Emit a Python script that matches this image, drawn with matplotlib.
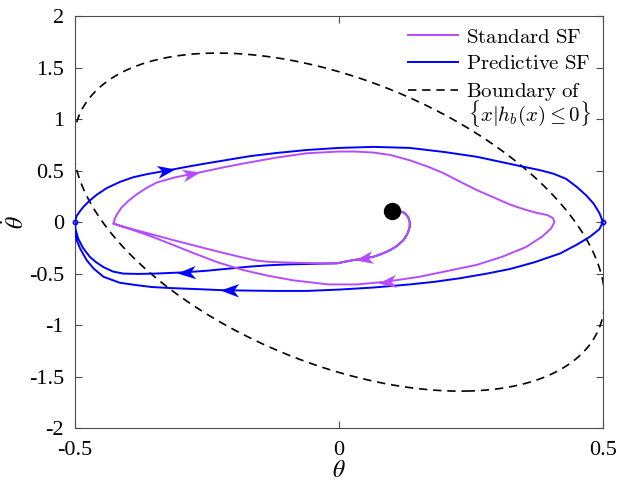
import numpy as np
import matplotlib.pyplot as plt
from matplotlib.path import Path

plt.rcParams['font.family'] = ['Liberation Serif', 'DejaVu Serif']
plt.rcParams['mathtext.fontset'] = 'stix'
plt.rcParams['axes.unicode_minus'] = False

# barrier h_b(x) = x' P x - 1
P_b = np.array([[4.99, 0.699],
                [0.699, 0.4695]])

x0 = (0.1, 0.11)

# standard safety filter trajectory
std_theta = [0.1, 0.112, 0.124, 0.131, 0.134, 0.134, 0.13, 0.122, 0.11, 0.097, 0.08, 0.065, 0.045, 0.027, -0.004,
             -0.03, -0.061, -0.1, -0.135, -0.16, -0.19, -0.23, -0.276, -0.31, -0.35, -0.39, -0.415, -0.427,
             -0.425, -0.42, -0.412, -0.398, -0.383, -0.365, -0.345, -0.31, -0.263, -0.22, -0.18, -0.12,
             -0.061, 0.0, 0.03, 0.065, 0.097, 0.134, 0.17, 0.198, 0.23, 0.261, 0.295, 0.324, 0.35, 0.374,
             0.395, 0.405, 0.408, 0.402, 0.385, 0.355, 0.31, 0.261, 0.2, 0.153, 0.09, 0.034, -0.02,
             -0.087, -0.135, -0.181, -0.23, -0.276, -0.32, -0.36, -0.4, -0.427]
std_dtheta = [0.11, 0.11, 0.09, 0.05, 0.0, -0.045, -0.11, -0.175, -0.23, -0.272, -0.31, -0.337, -0.355, -0.369, -0.4,
              -0.4, -0.397, -0.392, -0.385, -0.37, -0.335, -0.285, -0.225, -0.18, -0.125, -0.07, -0.035, -0.015,
              0.03, 0.08, 0.14, 0.21, 0.27, 0.33, 0.385, 0.435, 0.483, 0.53, 0.57, 0.625,
              0.668, 0.685, 0.685, 0.675, 0.652, 0.6, 0.535, 0.475, 0.39, 0.311, 0.235, 0.17, 0.125, 0.09,
              0.068, 0.04, 0.0, -0.06, -0.14, -0.24, -0.335, -0.415, -0.48, -0.53, -0.578, -0.605, -0.605,
              -0.565, -0.52, -0.466, -0.39, -0.3, -0.21, -0.13, -0.06, -0.015]

# predictive safety filter trajectory
pred_theta = [0.1, 0.112, 0.124, 0.131, 0.134, 0.134, 0.13, 0.122, 0.11, 0.097, 0.08, 0.065, 0.045, 0.027, -0.004,
              -0.05, -0.093, -0.13, -0.169, -0.21, -0.25, -0.295, -0.35, -0.38, -0.408, -0.428, -0.445,
              -0.46, -0.472, -0.485, -0.494, -0.499, -0.5,
              -0.497, -0.49, -0.484, -0.472, -0.459, -0.44, -0.415, -0.39, -0.364, -0.326, -0.29, -0.257,
              -0.21, -0.169, -0.12, -0.061, 0.0, 0.065, 0.134, 0.2, 0.261, 0.343, 0.38, 0.406, 0.43,
              0.45, 0.468, 0.482, 0.493, 0.5,
              0.493, 0.475, 0.45, 0.419, 0.37, 0.324, 0.28, 0.229, 0.18, 0.134, 0.065, 0.0, -0.061,
              -0.12, -0.169, -0.225, -0.27, -0.32, -0.355, -0.383, -0.415, -0.446, -0.465, -0.478,
              -0.49, -0.497, -0.5, -0.5]
pred_dtheta = [0.11, 0.11, 0.09, 0.05, 0.0, -0.045, -0.11, -0.175, -0.23, -0.272, -0.31, -0.337, -0.355, -0.369, -0.4,
               -0.405, -0.41, -0.418, -0.432, -0.452, -0.472, -0.488, -0.5, -0.503, -0.5, -0.48, -0.44,
               -0.39, -0.337, -0.25, -0.16, -0.07, 0.0,
               0.06, 0.11, 0.149, 0.21, 0.265, 0.33, 0.39, 0.435, 0.465, 0.5, 0.535, 0.565,
               0.605, 0.64, 0.67, 0.7, 0.72, 0.73, 0.72, 0.68, 0.634, 0.544, 0.505, 0.47, 0.42,
               0.343, 0.26, 0.181, 0.09, 0.0,
               -0.07, -0.143, -0.22, -0.304, -0.39, -0.455, -0.5, -0.545, -0.58, -0.605, -0.635, -0.655, -0.668,
               -0.668, -0.665, -0.66, -0.65, -0.64, -0.63, -0.612, -0.589, -0.531, -0.45, -0.369,
               -0.26, -0.175, -0.08, 0.0]

# arrowheads: (tip theta, tip dtheta, tail theta, tail dtheta)
std_arrows = [(0.03, -0.368, 0.065, -0.337),
              (-0.263, 0.483, -0.295, 0.45),
              (0.074, -0.589, 0.12, -0.562)]
pred_arrows = [(-0.311, 0.511, -0.339, 0.488),
               (-0.307, -0.49, -0.26, -0.478),
               (-0.225, -0.66, -0.17, -0.665)]

xticks = [-0.5, 0, 0.5]
xticklabels = ['-0.5', '0', '0.5']
yticks = [-2, -1.5, -1, -0.5, 0, 0.5, 1, 1.5, 2]
yticklabels = ['-2', '-1.5', '-1', '-0.5', '0', '0.5', '1', '1.5', '2']

c_std = '#b54dff'
c_pred = '#0000ff'

fig = plt.figure(figsize=(6.17, 4.86), dpi=100)
ax = fig.add_axes([0.1216, 0.119, 0.8557, 0.848])
ax.set_xlim(-0.5, 0.5)
ax.set_ylim(-2, 2)

l_std, = ax.plot(std_theta, std_dtheta, color=c_std, lw=1.4, zorder=4)
l_pred, = ax.plot(pred_theta, pred_dtheta, color=c_pred, lw=1.4, zorder=3)
ax.plot([-0.5, 0.5], [0, 0], 'o', ms=3, mfc='none', mec=c_pred, mew=1.2, zorder=3, clip_on=False)

# ellipse x' P x = 1
w, V = np.linalg.eigh(P_b)
t = np.linspace(0, 2 * np.pi, 400)
ell = V @ np.vstack([np.cos(t) / np.sqrt(w[0]), np.sin(t) / np.sqrt(w[1])])
l_bnd, = ax.plot(ell[0], ell[1], color='k', lw=1.2, ls=(0, (5, 3.5)), zorder=2)

ax.plot(*x0, 'o', color='k', ms=11.5, zorder=6)

# notched arrowhead, tip at origin pointing along +x
head = np.array([[0, 0], [-1, 0.36], [-0.72, 0], [-1, -0.36], [0, 0]])
codes = [Path.MOVETO, Path.LINETO, Path.LINETO, Path.LINETO, Path.CLOSEPOLY]


def draw_arrows(arrows, color):
    for tx, ty, bx, by in arrows:
        p1 = ax.transData.transform((bx, by))
        p2 = ax.transData.transform((tx, ty))
        a = np.arctan2(p2[1] - p1[1], p2[0] - p1[0])
        R = np.array([[np.cos(a), -np.sin(a)], [np.sin(a), np.cos(a)]])
        mk = Path(head @ R.T, codes)
        ax.plot(tx, ty, marker=mk, ms=27, color=color, mew=0, zorder=5)


draw_arrows(std_arrows, c_std)
draw_arrows(pred_arrows, c_pred)

ax.set_xticks(xticks)
ax.set_xticklabels(xticklabels)
ax.set_yticks(yticks)
ax.set_yticklabels(yticklabels)
ax.tick_params(direction='in', top=True, right=True, labelsize=16, length=5,
               color='#4d4d4d', width=0.8)
ax.tick_params(axis='x', pad=9)
ax.tick_params(axis='y', pad=8)
for s in ax.spines.values():
    s.set_color('#4d4d4d')
    s.set_linewidth(0.8)

ax.set_xlabel(r'$\theta$', fontsize=17)
ax.xaxis.set_label_coords(0.5, -0.08)
ax.set_ylabel(r'$\dot{\theta}$', fontsize=17)
ax.yaxis.set_label_coords(-0.087, 0.5)

leg = ax.legend([l_std, l_pred, l_bnd],
                [r'$\mathrm{Standard\ SF}$', r'$\mathrm{Predictive\ SF}$', r'$\mathrm{Boundary\ of}$'],
                loc='upper right', frameon=False, fontsize=15, handlelength=2.4,
                handletextpad=0.4, labelspacing=0.33, borderaxespad=0.0, borderpad=0.2,
                bbox_to_anchor=(0.985, 0.981))
for txt in leg.get_texts():
    txt.set_math_fontfamily('cm')
# second line of the boundary entry
ax.text(0.744, 0.763, r'$\{x|h_b(x)\leq 0\}$', transform=ax.transAxes, fontsize=15,
        ha='left', va='center', math_fontfamily='cm')

fig.savefig('out.png', dpi=100)
